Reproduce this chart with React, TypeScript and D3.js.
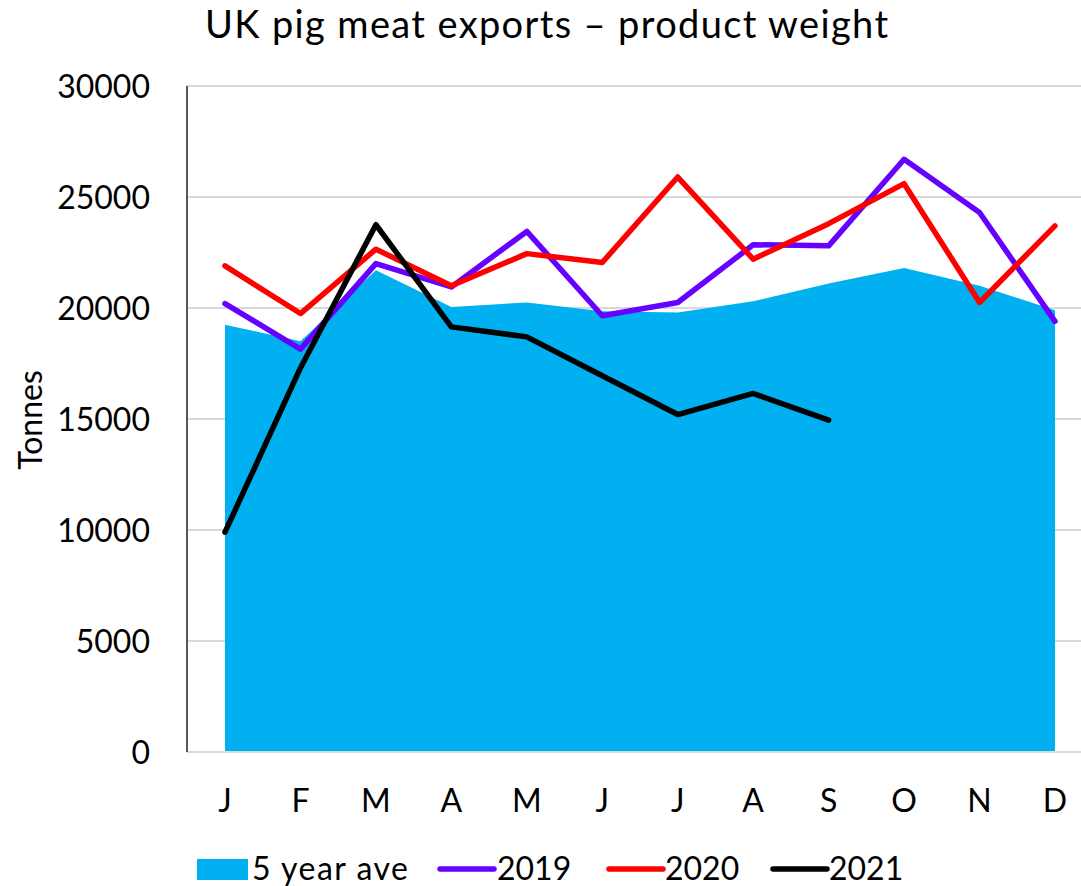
import React from "react";
import * as d3 from "d3";

const months = ["J", "F", "M", "A", "M", "J", "J", "A", "S", "O", "N", "D"];
const fiveYearAve = [19250, 18500, 21700, 20050, 20250, 19850, 19800, 20300, 21100, 21800, 21000, 19900];
const y2019 = [20200, 18150, 22000, 20950, 23450, 19650, 20250, 22850, 22800, 26700, 24300, 19400];
const y2020 = [21900, 19750, 22650, 21000, 22450, 22050, 25900, 22200, 23800, 25600, 20250, 23700];
const y2021 = [9900, 17300, 23750, 19150, 18700, 16950, 15200, 16150, 14950];
const yTicks = [0, 5000, 10000, 15000, 20000, 25000, 30000];

const W = 1081;
const H = 886;
const FONT = "Lato, 'Open Sans', sans-serif";

export default function App() {
  const x = d3.scaleLinear().domain([0, 11]).range([225, 1055]);
  const y = d3.scaleLinear().domain([0, 30000]).range([752, 86]);
  const area = d3
    .area<number>()
    .x((_, i) => x(i))
    .y0(y(0))
    .y1((d) => y(d));
  const line = d3
    .line<number>()
    .x((_, i) => x(i))
    .y((d) => y(d));

  const series = [
    { name: "2019", data: y2019, color: "#6600FF" },
    { name: "2020", data: y2020, color: "#FF0000" },
    { name: "2021", data: y2021, color: "#000000" },
  ];

  const legendLines = [
    { name: "2019", color: "#6600FF", x1: 440, tx: 497 },
    { name: "2020", color: "#FF0000", x1: 609, tx: 665 },
    { name: "2021", color: "#000000", x1: 773, tx: 829 },
  ];

  return (
    <div style={{ position: "absolute", left: 0, top: 0 }}>
      <svg width={W} height={H} style={{ display: "block", background: "#fff" }}>
        <text
          x={205}
          y={38}
          fontFamily={FONT}
          fontSize={38}
          textLength={683}
          lengthAdjust="spacing"
          fill="#000"
        >
          UK pig meat exports – product weight
        </text>
        {yTicks.map((t) => (
          <g key={t}>
            {t > 0 && (
              <line x1={187} x2={W} y1={y(t)} y2={y(t)} stroke="#D9D9D9" strokeWidth={2} />
            )}
            <text
              x={150}
              y={y(t)}
              dy="0.36em"
              textAnchor="end"
              fontFamily={FONT}
              fontSize={32}
              fill="#000"
            >
              {t}
            </text>
          </g>
        ))}
        <path d={area(fiveYearAve) || ""} fill="#00B0F0" />
        <line x1={187} x2={W} y1={y(0)} y2={y(0)} stroke="#D9D9D9" strokeWidth={2} />
        <line x1={187} x2={187} y1={y(30000)} y2={y(0)} stroke="#595959" strokeWidth={2} />
        {series.map((s) => (
          <path
            key={s.name}
            d={line(s.data) || ""}
            fill="none"
            stroke={s.color}
            strokeWidth={5.5}
            strokeLinejoin="round"
            strokeLinecap="round"
          />
        ))}
        {months.map((m, i) => (
          <text
            key={i}
            x={x(i)}
            y={812}
            textAnchor="middle"
            fontFamily={FONT}
            fontSize={32}
            fill="#000"
          >
            {m}
          </text>
        ))}
        <text
          transform="translate(42,420) rotate(-90)"
          textAnchor="middle"
          fontFamily={FONT}
          fontSize={32}
          fill="#000"
        >
          Tonnes
        </text>
        <rect x={197} y={859} width={51} height={21} fill="#00B0F0" />
        <text
          x={252}
          y={880}
          fontFamily={FONT}
          fontSize={32}
          textLength={156}
          lengthAdjust="spacing"
          fill="#000"
        >
          5 year ave
        </text>
        {legendLines.map((l) => (
          <g key={l.name}>
            <line
              x1={l.x1}
              x2={l.x1 + 54}
              y1={869}
              y2={869}
              stroke={l.color}
              strokeWidth={5.5}
              strokeLinecap="round"
            />
            <text x={l.tx} y={880} fontFamily={FONT} fontSize={32} fill="#000">
              {l.name}
            </text>
          </g>
        ))}
      </svg>
    </div>
  );
}
